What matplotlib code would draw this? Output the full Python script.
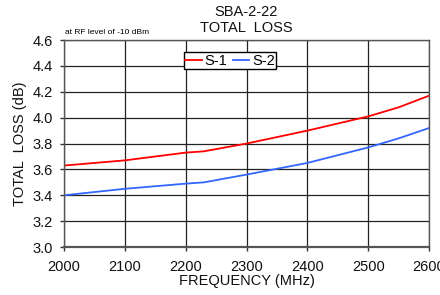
import numpy as np
import matplotlib.pyplot as plt

plt.rcParams['font.family'] = ['Liberation Sans', 'DejaVu Sans']

# datos
freq = [2000, 2100, 2200, 2230, 2300, 2400, 2500, 2550, 2600]
s1 = [3.63, 3.67, 3.73, 3.74, 3.80, 3.90, 4.01, 4.08, 4.17]
s2 = [3.40, 3.45, 3.49, 3.50, 3.56, 3.65, 3.77, 3.84, 3.92]

x_ticks = [2000, 2100, 2200, 2300, 2400, 2500, 2600]
y_ticks = [3.0, 3.2, 3.4, 3.6, 3.8, 4.0, 4.2, 4.4, 4.6]

fig = plt.figure(figsize=(4.4, 2.95), dpi=100)
ax = fig.add_axes([0.1455, 0.1627, 0.8295, 0.7013])

ax.plot(freq, s1, color='#ff0000', lw=1.3, label='S-1')
ax.plot(freq, s2, color='#3366ff', lw=1.3, label='S-2')

ax.set_xlim(2000, 2600)
ax.set_ylim(3.0, 4.6)
ax.set_xticks(x_ticks)
ax.set_yticks(y_ticks)
ax.set_yticklabels([f'{v:.1f}' for v in y_ticks])

ax.grid(True, color='#222222', lw=0.9)
ax.set_axisbelow(True)
for s in ax.spines.values():
    s.set_color('#555555')
    s.set_linewidth(1.0)
ax.spines['bottom'].set_linewidth(1.6)

ax.tick_params(direction='out', length=3, width=1, colors='#333333',
               labelsize=10.5, labelcolor='#111111')
ax.tick_params(axis='y', pad=5)
ax.tick_params(axis='x', pad=6)

ax.set_xlabel('FREQUENCY (MHz)', fontsize=10.5, labelpad=0, color='#111111')
ax.set_ylabel('TOTAL  LOSS (dB)', fontsize=10.5, labelpad=4, color='#111111')
ax.set_title('SBA-2-22\nTOTAL  LOSS', fontsize=10.5, linespacing=1.15, pad=6,
             color='#111111')

fig.text(0.148, 0.885, 'at RF level of -10 dBm', fontsize=6)

leg = ax.legend(loc='center', bbox_to_anchor=(0.455, 0.90), ncol=2,
                fontsize=10.5, handlelength=1.1, handletextpad=0.2,
                columnspacing=0.4, borderpad=0.1, fancybox=False,
                framealpha=1, edgecolor='black', borderaxespad=0)
leg.get_frame().set_linewidth(1.0)

fig.savefig('out.png', dpi=100)
